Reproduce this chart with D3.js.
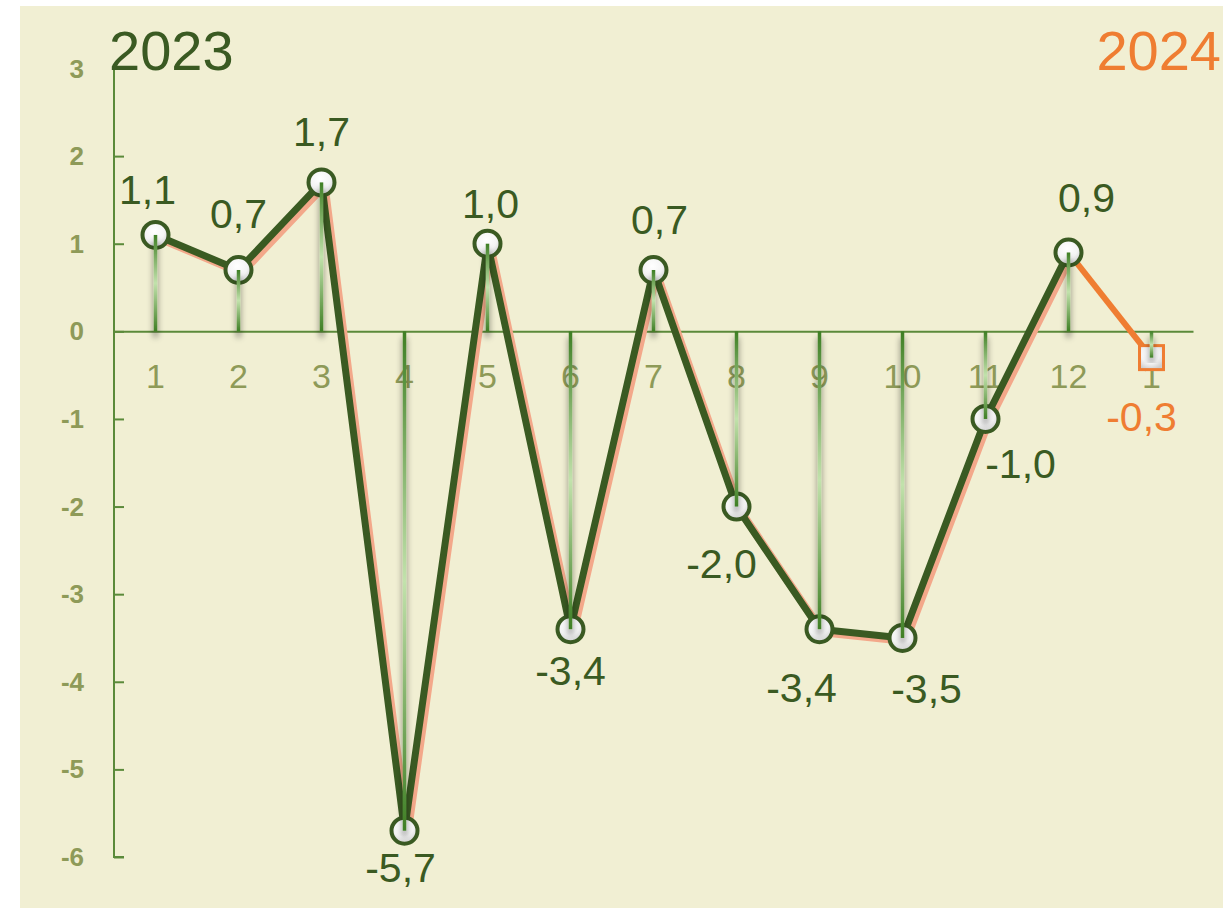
<!DOCTYPE html>
<html>
<head>
<meta charset="utf-8">
<script src="https://cdn.jsdelivr.net/npm/d3@7"></script>
<style>
  body { margin:0; background:#fff; }
  svg text { font-family: "Liberation Sans", Arial, sans-serif; }
</style>
</head>
<body>
<div id="chart"></div>
<script>
var w=1231;
var h=910;

// data
var months=["1","2","3","4","5","6","7","8","9","10","11","12","1"];
var values2023=[1.1,0.7,1.7,-5.7,1.0,-3.4,0.7,-2.0,-3.4,-3.5,-1.0,0.9];
var values2024=[-0.3];
var yTicks=[3,2,1,0,-1,-2,-3,-4,-5,-6];
var years=["2023","2024"];

var all=values2023.concat(values2024);

var dark="#3a5a22", orange="#ef7d32", olive="#8e9a58", axisGreen="#5b8a3a";

var svg=d3.select("#chart")
  .append("svg")
  .attr("width",w)
  .attr("height",h);

var defs=svg.append("defs");

var g1=defs.append("linearGradient").attr("id","drop")
  .attr("gradientUnits","objectBoundingBox").attr("x1",0).attr("y1",0).attr("x2",0).attr("y2",1);
g1.append("stop").attr("offset","0%").attr("stop-color","#3f7f25");
g1.append("stop").attr("offset","50%").attr("stop-color","#c2e2ac");
g1.append("stop").attr("offset","100%").attr("stop-color","#3f7f25");

var rg=defs.append("radialGradient").attr("id","mk").attr("cx","45%").attr("cy","35%").attr("r","65%");
rg.append("stop").attr("offset","0%").attr("stop-color","#ffffff");
rg.append("stop").attr("offset","60%").attr("stop-color","#f4f4f4");
rg.append("stop").attr("offset","100%").attr("stop-color","#cfcfcf");

var f=defs.append("filter").attr("id","shadow").attr("x","-300%").attr("y","-20%").attr("width","700%").attr("height","140%");
f.append("feGaussianBlur").attr("in","SourceAlpha").attr("stdDeviation",3).attr("result","b");
f.append("feOffset").attr("in","b").attr("dx",0).attr("dy",6).attr("result","o");
f.append("feComponentTransfer").attr("in","o").attr("result","s")
  .append("feFuncA").attr("type","linear").attr("slope",0.55);
var fm=f.append("feMerge");
fm.append("feMergeNode").attr("in","s");
fm.append("feMergeNode").attr("in","SourceGraphic");

// panel background
svg.append("rect").attr("x",20).attr("y",6).attr("width",1203).attr("height",902).attr("fill","#f1efd3");

var x=d3.scaleBand().domain(d3.range(months.length)).range([114,1193]).padding(0);
var y=d3.scaleLinear().domain([-6,3]).range([857,68.5]);
var cx=function(i){ return x(i)+x.bandwidth()/2; };
var fmt=function(v){ return d3.format(".1f")(v).replace(".",",").replace("\u2212","-"); };

// y axis
var yAxis=svg.append("g").attr("transform","translate(114,0)")
  .call(d3.axisRight(y).tickValues(yTicks).tickSize(10).tickFormat(""));
yAxis.select(".domain").attr("stroke",axisGreen).attr("stroke-width",2).attr("d","M10,68.5H0V857H10");
yAxis.selectAll(".tick line").attr("stroke",axisGreen).attr("stroke-width",2);

svg.selectAll("text.ylab")
  .data(yTicks)
  .enter()
  .append("text")
  .attr("class","ylab")
  .attr("x",84)
  .attr("y",function(d){ return y(d)+9; })
  .attr("text-anchor","end")
  .attr("font-size",26)
  .attr("font-weight","bold")
  .attr("fill",olive)
  .text(function(d){ return d; });

// x axis
var xAxis=svg.append("g").attr("transform","translate(0,"+y(0)+")")
  .call(d3.axisBottom(x).tickSize(0).tickFormat(function(i){ return months[i]; }));
xAxis.select(".domain").attr("stroke",axisGreen).attr("stroke-width",2);
xAxis.selectAll("text")
  .attr("y",0).attr("dy","57px")
  .attr("font-size",34)
  .attr("fill",olive)
  .attr("font-family","Liberation Sans, Arial, sans-serif");

// lines
var line=d3.line().x(function(d){ return cx(d.i); }).y(function(d){ return y(d.v); });
var pts2023=values2023.map(function(v,i){ return {i:i,v:v}; });
var ptsJoin=[{i:values2023.length-1,v:values2023[values2023.length-1]}].concat(values2024.map(function(v,k){ return {i:values2023.length+k,v:v}; }));

svg.append("path").datum(pts2023).attr("d",line)
  .attr("transform","translate(3,3)")
  .attr("fill","none").attr("stroke","#f3a88a").attr("stroke-width",8).attr("stroke-linejoin","round");
svg.append("path").datum(ptsJoin).attr("d",line)
  .attr("fill","none").attr("stroke",orange).attr("stroke-width",6).attr("stroke-linejoin","round");
svg.append("path").datum(pts2023).attr("d",line)
  .attr("fill","none").attr("stroke",dark).attr("stroke-width",7).attr("stroke-linejoin","round");

// markers
svg.selectAll("circle.mk")
  .data(pts2023)
  .enter()
  .append("circle")
  .attr("class","mk")
  .attr("cx",function(d){ return cx(d.i); })
  .attr("cy",function(d){ return y(d.v); })
  .attr("r",13)
  .attr("fill","url(#mk)")
  .attr("stroke",dark)
  .attr("stroke-width",4);

svg.selectAll("rect.mk")
  .data(ptsJoin.slice(1))
  .enter()
  .append("rect")
  .attr("class","mk")
  .attr("x",function(d){ return cx(d.i)-12; })
  .attr("y",function(d){ return y(d.v)-12; })
  .attr("width",24).attr("height",24)
  .attr("fill","url(#mk)")
  .attr("stroke",orange)
  .attr("stroke-width",3);

// drop lines
var allPts=all.map(function(v,i){ return {i:i,v:v}; });
svg.selectAll("rect.drop")
  .data(allPts)
  .enter()
  .append("rect")
  .attr("class","drop")
  .attr("x",function(d){ return cx(d.i)-1.75; })
  .attr("y",function(d){ return Math.min(y(d.v),y(0)); })
  .attr("width",3.5)
  .attr("height",function(d){ return Math.abs(y(d.v)-y(0)); })
  .attr("fill","url(#drop)")
  .attr("filter","url(#shadow)");

// data labels (nudges per point)
var nudge=[[-8,-31],[0,-42],[0,-36],[-4,51],[3,-26],[0,56],[6,-36],[-15,71],[-18,73],[24,65],[35,59],[18,-40],[-10,73]];
svg.selectAll("text.val")
  .data(allPts)
  .enter()
  .append("text")
  .attr("class","val")
  .attr("x",function(d){ return cx(d.i)+nudge[d.i][0]; })
  .attr("y",function(d){ return y(d.v)+nudge[d.i][1]; })
  .attr("text-anchor","middle")
  .attr("font-size",41)
  .attr("fill",function(d){ return d.i<values2023.length?dark:orange; })
  .text(function(d){ return fmt(d.v); });

// year titles
svg.append("text").attr("x",109).attr("y",70).attr("font-size",56).attr("fill",dark).text(years[0]);
svg.append("text").attr("x",1221).attr("y",70).attr("text-anchor","end").attr("font-size",56).attr("fill",orange).text(years[1]);
</script>
</body>
</html>
